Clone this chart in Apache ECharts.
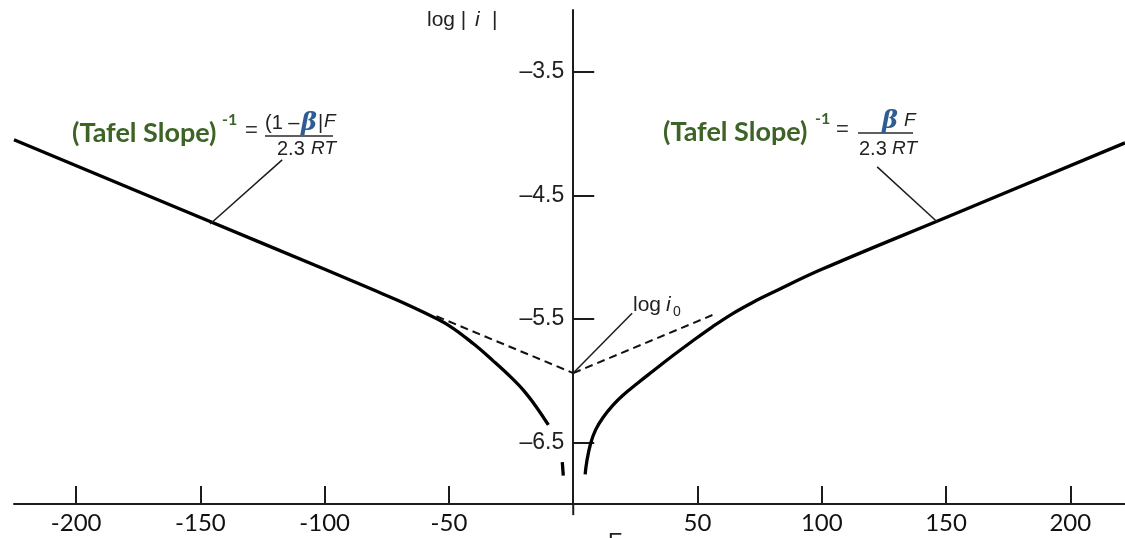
<!DOCTYPE html>
<html>
<head>
<meta charset="utf-8">
<script src="https://cdn.jsdelivr.net/npm/echarts@6/dist/echarts.min.js"></script>
<style>
  html, body { margin: 0; padding: 0; background: #fff; }
  #chart { width: 1125px; height: 538px; }
</style>
</head>
<body>
<div id="chart"></div>
<script>
// Potential axis (mV) and log|i| axis tick values
const potentialTicks = [-200, -150, -100, -50, 50, 100, 150, 200];
const logTicks = [-6.5, -5.5, -4.5, -3.5];

// Cathodic branch (negative overpotential): E and log|i|
const cathodicE   = [-225, -150, -100, -80, -70, -60, -50, -40, -32, -25, -20, -15, -10];
const cathodicLog = [-4.05, -4.68, -5.10, -5.27, -5.356, -5.45, -5.555, -5.705, -5.845, -5.975, -6.08, -6.21, -6.36];

// Short fragment of the cathodic branch close to zero
const cathodicTailE   = [-4.4, -4.0];
const cathodicTailLog = [-6.66, -6.77];

// Anodic branch (positive overpotential)
const anodicE   = [4.8, 5.5, 7, 9, 12, 16, 20, 26, 32, 40, 48, 56, 64, 72, 80, 100, 150, 222];
const anodicLog = [-6.76, -6.65, -6.51, -6.40, -6.30, -6.20, -6.12, -6.02, -5.925, -5.80, -5.68, -5.565, -5.46, -5.37, -5.29, -5.10, -4.68, -4.076];

// Tafel extrapolations to the exchange current density log i0
const logI0 = -5.94;
const cathodicTafelE   = [-55, 0];
const cathodicTafelLog = [-5.48, logI0];
const anodicTafelE     = [0, 56];
const anodicTafelLog   = [logI0, -5.47];

// Leader lines for the annotations
const leaderCathodicE   = [-117.1, -146.1];
const leaderCathodicLog = [-4.214, -4.733];
const leaderAnodicE     = [122.3, 146.5];
const leaderAnodicLog   = [-4.270, -4.717];
const leaderI0E         = [23.7, 0];
const leaderI0Log       = [-5.455, logI0];

const X_MIN = -225, X_MAX = 222;
const GRID_LEFT = 14, GRID_RIGHT = 0, CHART_W = 1125;

const zip = (xs, ys) => xs.map((x, i) => [x, ys[i]]);

const INK = '#1c1c1c';
const GREEN = '#3d6326';
const BLUE = '#2e5d92';
const SANS = '"Liberation Sans", Arial, sans-serif';

function txt(x, y, text, font, fill, align) {
  return {
    type: 'text', x: x, y: y, silent: true,
    style: { text: text, font: font, fill: fill || INK, textAlign: align || 'left', textVerticalAlign: 'middle' }
  };
}
function bar(x1, x2, y) {
  return {
    type: 'line', silent: true,
    shape: { x1: x1, y1: y, x2: x2, y2: y },
    style: { stroke: '#2a2a2a', lineWidth: 1.5 }
  };
}

// horizontal pixel distance from the grid's left edge to E = 0
const plotW = CHART_W - GRID_LEFT - GRID_RIGHT;
const zeroOffset = (0 - X_MIN) / (X_MAX - X_MIN) * plotW;

const chart = echarts.init(document.getElementById('chart'), null, { renderer: 'canvas' });

const thinLine = (data) => ({
  type: 'line', data: data, symbol: 'none', silent: true,
  lineStyle: { color: INK, width: 1.5 }
});
const curve = (data, smooth) => ({
  type: 'line', data: data, symbol: 'none', silent: true, smooth: smooth,
  lineStyle: { color: '#000', width: 3.3 }
});

chart.setOption({
  animation: false,
  backgroundColor: '#fff',
  grid: { left: GRID_LEFT, right: GRID_RIGHT, top: 10, bottom: 34, containLabel: false, outerBoundsMode: 'none' },
  xAxis: {
    type: 'value', min: X_MIN, max: X_MAX,
    axisLine: { onZero: false, lineStyle: { color: INK, width: 2 } },
    axisTick: { show: true, inside: true, length: 18, customValues: potentialTicks, lineStyle: { color: INK, width: 2 } },
    axisLabel: {
      customValues: potentialTicks, margin: 7,
      fontFamily: 'Lato', fontSize: 24, color: '#111'
    },
    splitLine: { show: false }
  },
  yAxis: {
    type: 'value', min: -7, max: -3, position: 'left', offset: -zeroOffset,
    axisLine: { show: true, onZero: false, lineStyle: { color: INK, width: 2 } },
    axisTick: { show: true, inside: true, length: 21, customValues: logTicks, lineStyle: { color: INK, width: 2 } },
    axisLabel: {
      customValues: logTicks, margin: 9,
      fontFamily: SANS, fontSize: 23, color: '#222',
      formatter: (v) => String(v).replace('-', '\u2013')
    },
    splitLine: { show: false }
  },
  series: [
    curve(zip(cathodicE, cathodicLog), 0.4),
    curve(zip(cathodicTailE, cathodicTailLog), false),
    curve(zip(anodicE, anodicLog), 0.4),
    {
      type: 'line', data: zip(cathodicTafelE, cathodicTafelLog), symbol: 'none', silent: true,
      lineStyle: { color: '#111', width: 2, type: [8, 5] }
    },
    {
      type: 'line', data: zip(anodicTafelE, anodicTafelLog), symbol: 'none', silent: true,
      lineStyle: { color: '#111', width: 2, type: [8, 5] }
    },
    thinLine(zip(leaderCathodicE, leaderCathodicLog)),
    thinLine(zip(leaderAnodicE, leaderAnodicLog)),
    thinLine(zip(leaderI0E, leaderI0Log)),
    {
      // the vertical axis continues a little below the potential axis
      type: 'line', data: [[0, -7], [0, -7.09]], symbol: 'none', silent: true, clip: false,
      lineStyle: { color: INK, width: 2 }
    }
  ],
  graphic: [
    // axis titles
    txt(427, 20, 'log |', '21px ' + SANS, '#222'),
    txt(475, 20, 'i', 'italic 21px ' + SANS, '#222'),
    txt(492, 20, '|', '21px ' + SANS, '#222'),
    txt(608, 542, 'E', '22px ' + SANS, '#222'),

    // log i0 label
    txt(633, 305, 'log', '21px ' + SANS, '#222'),
    txt(666, 305, 'i', 'italic 21px ' + SANS, '#222'),
    txt(673, 312, '0', '14px ' + SANS, '#222'),

    // cathodic Tafel slope label
    txt(72, 133, '(Tafel Slope)', 'bold 27px Lato', GREEN),
    txt(222, 120, '-1', 'bold 16px Lato', GREEN),
    txt(245, 131, '=', '22px ' + SANS, '#333'),
    txt(265, 123, '(1 \u2013', '20px ' + SANS, '#222'),
    txt(301, 124, '\u03b2', 'bold italic 24px "DejaVu Serif"', BLUE),
    txt(318, 123, '|', '20px ' + SANS, '#222'),
    txt(324, 122, 'F', 'italic 19px ' + SANS, '#222'),
    bar(265, 333, 136),
    txt(277, 149, '2.3', '20px ' + SANS, '#222'),
    txt(311, 149, 'RT', 'italic 19px ' + SANS, '#222'),

    // anodic Tafel slope label
    txt(663, 132, '(Tafel Slope)', 'bold 27px Lato', GREEN),
    txt(815, 119, '-1', 'bold 16px Lato', GREEN),
    txt(836, 130, '=', '22px ' + SANS, '#333'),
    bar(858, 913, 133),
    txt(882, 122, '\u03b2', 'bold italic 24px "DejaVu Serif"', BLUE),
    txt(904, 121, 'F', 'italic 19px ' + SANS, '#222'),
    txt(859, 149, '2.3', '20px ' + SANS, '#222'),
    txt(892, 149, 'RT', 'italic 19px ' + SANS, '#222')
  ]
});
</script>
</body>
</html>
